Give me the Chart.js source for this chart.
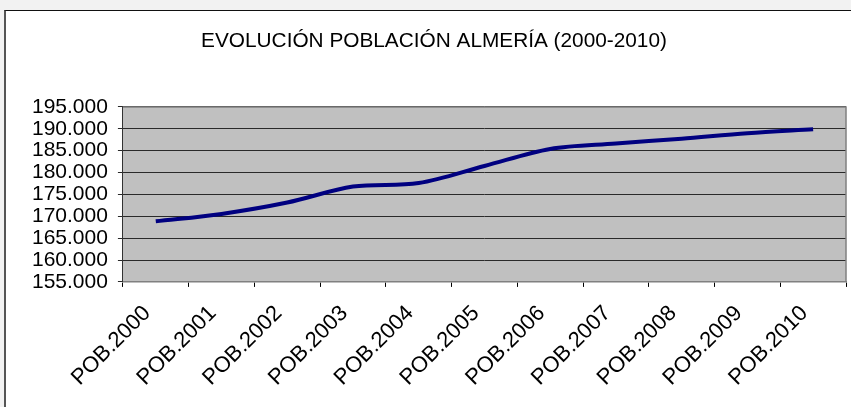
<!DOCTYPE html>
<html><head><meta charset="utf-8">
<script src="https://cdn.jsdelivr.net/npm/chart.js@4"></script>
<style>
html,body{margin:0;padding:0;width:851px;height:407px;overflow:hidden;background:#f2f2f2;}
#box{position:absolute;left:4px;top:10px;width:900px;height:450px;background:#fff;border-top:1px solid #111;border-left:2px solid #555;}
#wrap{position:absolute;left:0;top:0;width:851px;height:407px;}
</style></head><body>
<div id="box"></div>
<div id="wrap"><canvas id="c" width="851" height="407"></canvas></div>
<script>
const titleText = 'EVOLUCIÓN POBLACIÓN ALMERÍA (2000-2010)';
const categories = ['POB.2000','POB.2001','POB.2002','POB.2003','POB.2004','POB.2005','POB.2006','POB.2007','POB.2008','POB.2009','POB.2010'];
const population = [168850, 170550, 173150, 176800, 177600, 181500, 185400, 186650, 187750, 189000, 189900];
const yMin = 155000, yMax = 195000, yStep = 5000;

function fmt(v){ return String(v).replace(/\B(?=(\d{3})+(?!\d))/g, '.'); }

const plotBg = {
  id: 'plotBg',
  beforeDraw(chart){
    const {ctx, chartArea:a} = chart;
    ctx.save(); ctx.fillStyle = '#c0c0c0';
    ctx.fillRect(a.left, a.top, a.right-a.left, a.bottom-a.top);
    ctx.restore();
  },
  afterDraw(chart){
    const {ctx, chartArea:a} = chart;
    ctx.save(); ctx.strokeStyle = '#808080'; ctx.lineWidth = 1.5;
    ctx.beginPath();
    ctx.moveTo(a.left, a.top); ctx.lineTo(a.right, a.top); ctx.lineTo(a.right, a.bottom);
    ctx.stroke();
    ctx.restore();
  }
};

const FONT = '"Liberation Sans", Arial, sans-serif';
new Chart(document.getElementById('c'), {
  type: 'line',
  data: { labels: categories, datasets: [{
    data: population, borderColor: '#000080', borderWidth: 4, pointRadius: 0, tension: 0.33, fill: false
  }]},
  options: {
    responsive: false, animation: false, devicePixelRatio: 1,
    layout: { padding: { left: 22, right: 5, top: 0, bottom: 11 } },
    plugins: {
      legend: { display: false }, tooltip: { enabled: false },
      title: { display: true, text: titleText, color: '#000',
        font: { family: FONT, size: 20.8, weight: 'normal' }, padding: { top: 29, bottom: 53 } }
    },
    scales: {
      x: { offset: true,
        grid: { offset: true, drawOnChartArea: false, drawTicks: true, tickLength: 5, color: '#000' },
        border: { color: '#808080', width: 1.5 },
        ticks: { minRotation: 45, maxRotation: 45, autoSkip: false, color: '#000', padding: 5,
          font: { family: FONT, size: 22 }, callback: (v, i) => categories[i] + '  ' } },
      y: { min: yMin, max: yMax,
        grid: { color: '#2a2a2a', tickLength: 5, lineWidth: 1 },
        border: { color: '#333', width: 1 },
        ticks: { stepSize: yStep, autoSkip: false, color: '#000', padding: 10, font: { family: FONT, size: 21 }, callback: v => fmt(v) } }
    }
  },
  plugins: [plotBg]
});
</script>
</body></html>
